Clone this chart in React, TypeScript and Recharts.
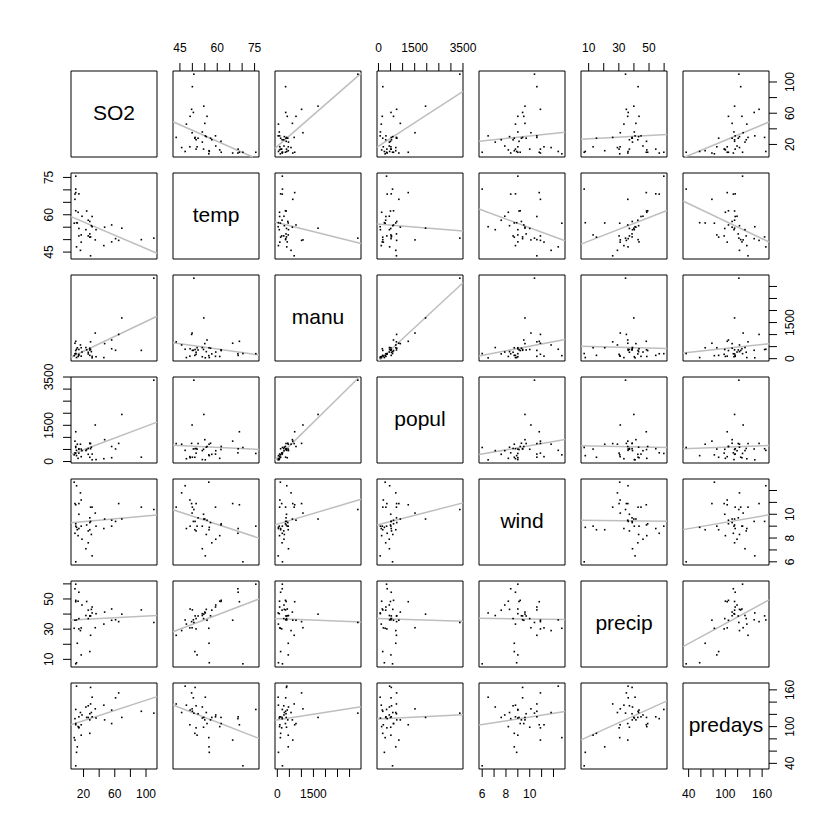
import React from 'react';
import { ScatterChart, Scatter, XAxis, YAxis, ReferenceLine, ReferenceArea } from 'recharts';

// USairpollution data (41 cities)
const SO2 = [46, 11, 24, 47, 11, 31, 110, 23, 65, 26, 9, 17, 17, 35, 56, 10, 28, 14, 14, 13, 30, 10, 10, 16, 29, 18, 9, 31, 14, 69, 10, 61, 94, 26, 28, 12, 29, 56, 28, 8, 36];
const temp = [47.6, 56.8, 61.5, 55.0, 47.1, 55.2, 50.6, 54.0, 49.7, 51.5, 66.2, 51.9, 49.0, 49.9, 49.1, 68.9, 52.3, 68.4, 54.5, 61.0, 55.6, 61.6, 75.5, 45.7, 43.5, 59.4, 68.3, 59.3, 51.5, 54.6, 70.3, 50.4, 50.0, 57.8, 51.0, 56.7, 51.1, 55.9, 57.3, 56.6, 54.0];
const manu = [44, 46, 368, 625, 391, 35, 3344, 462, 1007, 266, 641, 454, 104, 1064, 412, 721, 361, 136, 381, 91, 291, 337, 207, 569, 699, 275, 204, 96, 181, 1692, 213, 347, 343, 197, 137, 453, 379, 775, 434, 125, 80];
const popul = [116, 244, 497, 905, 463, 71, 3369, 453, 751, 540, 844, 515, 201, 1513, 158, 1233, 746, 529, 507, 132, 593, 624, 335, 717, 744, 448, 361, 308, 347, 1950, 582, 520, 179, 299, 176, 716, 531, 622, 757, 277, 80];
const wind = [8.8, 8.9, 9.1, 9.6, 12.4, 6.5, 10.4, 7.1, 10.9, 8.6, 10.9, 9.0, 11.2, 10.1, 9.0, 10.8, 9.7, 8.8, 10.0, 8.2, 8.3, 9.2, 9.0, 11.8, 10.6, 7.9, 8.4, 10.6, 10.9, 9.6, 6.0, 9.4, 10.6, 7.6, 8.7, 8.7, 9.4, 9.5, 9.3, 12.7, 9.0];
const precip = [33.36, 7.77, 48.34, 41.31, 36.11, 40.75, 34.44, 39.04, 34.99, 37.01, 35.94, 12.95, 30.85, 30.96, 43.37, 48.19, 38.74, 54.47, 37.0, 48.52, 43.11, 49.1, 59.8, 29.07, 25.94, 46.0, 56.77, 44.68, 30.18, 39.93, 7.05, 36.22, 42.75, 42.59, 15.17, 20.66, 38.79, 35.89, 38.89, 30.58, 40.25];
const predays = [135, 58, 115, 111, 166, 148, 122, 132, 155, 134, 78, 86, 103, 129, 127, 103, 121, 116, 99, 100, 123, 105, 128, 123, 137, 119, 113, 116, 98, 115, 36, 147, 125, 115, 89, 67, 164, 105, 111, 82, 114];

const variableNames = ['SO2', 'temp', 'manu', 'popul', 'wind', 'precip', 'predays'];
const columns = [SO2, temp, manu, popul, wind, precip, predays];

const tickValues = [
  [20, 40, 60, 80, 100],
  [45, 50, 55, 60, 65, 70, 75],
  [0, 500, 1000, 1500, 2000, 2500, 3000],
  [0, 500, 1000, 1500, 2000, 2500, 3000, 3500],
  [6, 7, 8, 9, 10, 11, 12],
  [10, 20, 30, 40, 50, 60],
  [40, 60, 80, 100, 120, 140, 160],
];
const tickLabels = [
  [20, 60, 100],
  [45, 60, 75],
  [0, 1500],
  [0, 1500, 3500],
  [6, 8, 10],
  [10, 30, 50],
  [40, 100, 160],
];

const ORIGIN = 71;
const PITCH = 102;
const SIZE = 86;
const PAD = 40;
const FONT = '"Liberation Sans", Arial, Helvetica, sans-serif';

function domainOf(v: number[]): [number, number] {
  const mn = Math.min(...v);
  const mx = Math.max(...v);
  const r = mx - mn;
  return [mn - 0.04 * r, mx + 0.04 * r];
}

const domains = columns.map(domainOf);

function lmFit(x: number[], y: number[]) {
  const n = x.length;
  const mx = x.reduce((s, v) => s + v, 0) / n;
  const my = y.reduce((s, v) => s + v, 0) / n;
  let sxy = 0;
  let sxx = 0;
  for (let k = 0; k < n; k++) {
    sxy += (x[k] - mx) * (y[k] - my);
    sxx += (x[k] - mx) * (x[k] - mx);
  }
  const b = sxy / sxx;
  return { a: my - b * mx, b };
}

function clippedSegment(a: number, b: number, xd: [number, number], yd: [number, number]) {
  const ya = a + b * xd[0];
  const yb = a + b * xd[1];
  let tlo = 0;
  let thi = 1;
  if (yb !== ya) {
    const t1 = (yd[0] - ya) / (yb - ya);
    const t2 = (yd[1] - ya) / (yb - ya);
    tlo = Math.max(0, Math.min(t1, t2));
    thi = Math.min(1, Math.max(t1, t2));
  } else if (ya < yd[0] || ya > yd[1]) {
    return null;
  }
  if (tlo >= thi) return null;
  const p = (t: number) => ({ x: xd[0] + t * (xd[1] - xd[0]), y: ya + t * (yb - ya) });
  return [p(tlo), p(thi)];
}

const DotShape = (props: any) => {
  const { cx, cy } = props;
  if (cx == null || cy == null) return <g />;
  return <rect x={cx - 0.8} y={cy - 0.8} width={1.6} height={1.6} fill="#000" />;
};

const makeTick = (orient: string, labels: number[]) => (props: any) => {
  const { x, y, payload } = props;
  const v = payload ? payload.value : null;
  if (v == null || !labels.includes(v)) return <g />;
  const common = { fontSize: 12, fontFamily: FONT, fill: '#000', textAnchor: 'middle' as const };
  if (orient === 'top') {
    return <text x={x} y={y - 10.7} {...common}>{String(v)}</text>;
  }
  if (orient === 'bottom') {
    return <text x={x} y={y + 20.7} {...common}>{String(v)}</text>;
  }
  if (orient === 'left') {
    const bx = x - 9.7;
    return <text transform={`translate(${bx},${y}) rotate(-90)`} x={0} y={0} {...common}>{String(v)}</text>;
  }
  const bx = x + 17.3;
  return <text transform={`translate(${bx},${y}) rotate(-90)`} x={0} y={0} {...common}>{String(v)}</text>;
};

function Panel({ i, j }: { i: number; j: number }) {
  const xd = domains[j];
  const yd = domains[i];
  const top = i === 0 && j % 2 === 1;
  const bottom = i === 6 && j % 2 === 0;
  const left = j === 0 && i % 2 === 1;
  const right = j === 6 && i % 2 === 0;
  const margin = {
    top: top ? 0 : PAD,
    bottom: bottom ? 0 : PAD,
    left: left ? 0 : PAD,
    right: right ? 0 : PAD,
  };
  const diag = i === j;
  const data = diag ? [] : columns[j].map((xv, k) => ({ x: xv, y: columns[i][k] }));
  let seg: any = null;
  if (!diag) {
    const { a, b } = lmFit(columns[j], columns[i]);
    seg = clippedSegment(a, b, xd, yd);
  }
  const xOrient = top ? 'top' : 'bottom';
  const yOrient = right ? 'right' : 'left';
  return (
    <div style={{ position: 'absolute', left: ORIGIN + j * PITCH - PAD, top: ORIGIN + i * PITCH - PAD }}>
      <ScatterChart width={SIZE + 2 * PAD} height={SIZE + 2 * PAD} margin={margin}>
        <XAxis
          type="number"
          dataKey="x"
          scale="linear"
          domain={xd}
          allowDataOverflow
          ticks={tickValues[j]}
          interval={0}
          hide={!top && !bottom}
          orientation={xOrient as any}
          height={PAD}
          tickSize={8}
          tickMargin={0}
          axisLine={false}
          tickLine={{ stroke: '#000', strokeWidth: 1 }}
          tick={makeTick(xOrient, tickLabels[j])}
        />
        <YAxis
          type="number"
          dataKey="y"
          scale="linear"
          domain={yd}
          allowDataOverflow
          ticks={tickValues[i]}
          interval={0}
          hide={!left && !right}
          orientation={yOrient as any}
          width={PAD}
          tickSize={8}
          tickMargin={0}
          axisLine={false}
          tickLine={{ stroke: '#000', strokeWidth: 1 }}
          tick={makeTick(yOrient, tickLabels[i])}
        />
        {seg && (
          <ReferenceLine segment={seg} stroke="#bebebe" strokeWidth={1.5} ifOverflow="visible" />
        )}
        <Scatter data={data} isAnimationActive={false} shape={DotShape} />
        <ReferenceArea
          x1={xd[0]}
          x2={xd[1]}
          y1={yd[0]}
          y2={yd[1]}
          fill="none"
          fillOpacity={0}
          stroke="#000"
          strokeWidth={1}
          ifOverflow="visible"
        />
      </ScatterChart>
    </div>
  );
}

export default function App() {
  const panels: React.ReactNode[] = [];
  for (let i = 0; i < 7; i++) {
    for (let j = 0; j < 7; j++) {
      panels.push(<Panel key={`${i}-${j}`} i={i} j={j} />);
    }
  }
  return (
    <div style={{ position: 'absolute', left: 0, top: 0, width: 840, height: 840, background: '#fff', overflow: 'hidden' }}>
      {panels}
      {variableNames.map((name, k) => (
        <svg
          key={name}
          width={SIZE}
          height={SIZE}
          style={{ position: 'absolute', left: ORIGIN + k * PITCH, top: ORIGIN + k * PITCH, pointerEvents: 'none' }}
        >
          <text x={SIZE / 2} y={SIZE / 2 + 6} textAnchor="middle" fontSize={21} fontFamily={FONT} fill="#000">
            {name}
          </text>
        </svg>
      ))}
    </div>
  );
}
